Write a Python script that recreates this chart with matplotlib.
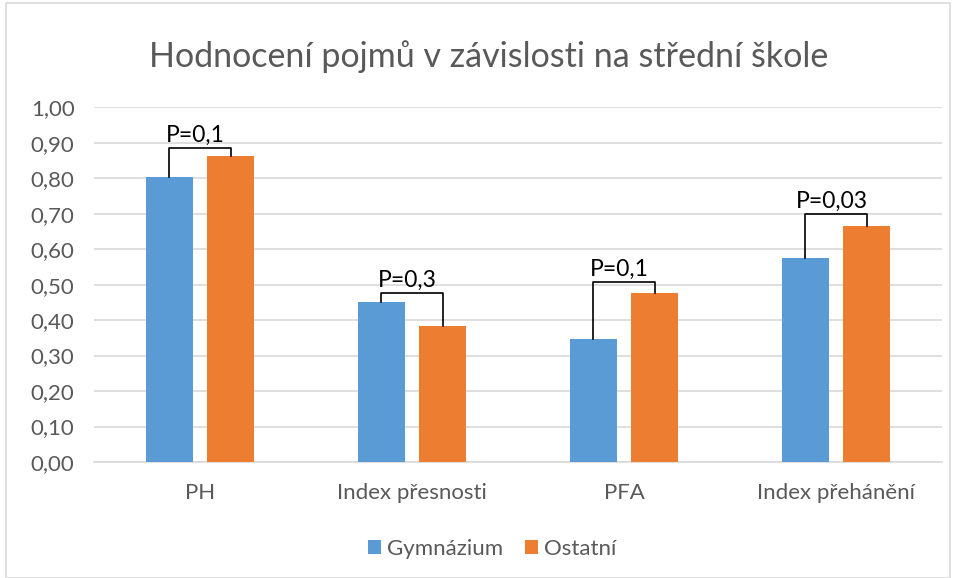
import matplotlib
matplotlib.use("Agg")
import matplotlib.pyplot as plt
import numpy as np
from matplotlib.patches import Rectangle

plt.rcParams['font.family'] = ['Lato', 'DejaVu Sans']

categories = ["PH", "Index přesnosti", "PFA", "Index přehánění"]
gymnazium = [0.803, 0.452, 0.348, 0.576]
ostatni = [0.862, 0.384, 0.477, 0.666]
bracket_heights = [0.886, 0.477, 0.508, 0.699]
p_labels = ["P=0,1", "P=0,3", "P=0,1", "P=0,03"]
yticks = [0.0, 0.1, 0.2, 0.3, 0.4, 0.5, 0.6, 0.7, 0.8, 0.9, 1.0]
ytick_labels = ["0,00", "0,10", "0,20", "0,30", "0,40", "0,50", "0,60", "0,70", "0,80", "0,90", "1,00"]

blue = "#5B9BD5"
orange = "#ED7D31"
gray_text = "#595959"

fig = plt.figure(figsize=(9.57, 5.78), dpi=100)
ax = fig.add_axes([94/957, 1-462/578, (942-94)/957, (462-107.3)/578])

x = np.arange(len(categories))
w = 0.22
off = 0.144
ax.bar(x - off, gymnazium, w, color=blue, label="Gymnázium", zorder=3)
ax.bar(x + off, ostatni, w, color=orange, label="Ostatní", zorder=3)

for i in range(len(categories)):
    xl, xr = x[i] - off, x[i] + off
    h = bracket_heights[i]
    ax.plot([xl, xl, xr, xr], [gymnazium[i], h, h, ostatni[i]], color="black", lw=1.2, zorder=4)
    ax.text(x[i] - 0.02, h + 0.006, p_labels[i], ha="center", va="bottom", fontsize=16.5, color="black", zorder=5)

ax.set_xlim(-0.5, 3.5)
ax.set_ylim(0, 1.0)
ax.set_yticks(yticks)
ax.set_yticklabels(ytick_labels)
ax.set_xticks(x)
ax.set_xticklabels(categories)
ax.tick_params(axis='both', length=0, labelsize=16, colors=gray_text)
ax.tick_params(axis='x', pad=15)
ax.tick_params(axis='y', pad=14)
ax.yaxis.grid(True, color="#D9D9D9", lw=1.2, zorder=0)
ax.set_axisbelow(True)
for s in ["top", "right", "left"]:
    ax.spines[s].set_visible(False)
ax.spines["bottom"].set_color("#D9D9D9")
ax.spines["bottom"].set_linewidth(1.2)

fig.text(489/957, 1-57/578, "Hodnocení pojmů v závislosti na střední škole",
         ha="center", va="center", fontsize=24.5, color=gray_text)

leg = fig.legend(loc="center", bbox_to_anchor=(492/957, 1-549/578), ncol=2, frameon=False,
                 fontsize=16, handlelength=0.6, handleheight=0.6, handletextpad=0.25,
                 columnspacing=1.0)
for t in leg.get_texts():
    t.set_color(gray_text)

fig.patches.append(Rectangle((6/957, 0), (950-6)/957, (578-3)/578, transform=fig.transFigure,
                             fill=False, edgecolor="#D9D9D9", lw=1.2))

fig.savefig("out.png", dpi=100)
